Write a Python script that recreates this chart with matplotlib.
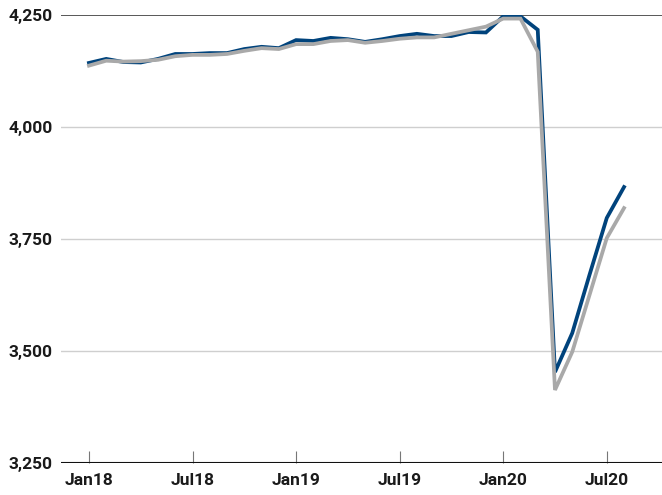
import matplotlib
matplotlib.use("Agg")
import matplotlib.pyplot as plt
import pandas as pd

plt.rcParams['font.family'] = ['Liberation Sans Narrow', 'Roboto', 'DejaVu Sans']

months = pd.date_range("2018-01-01", "2020-08-01", freq="MS")

series_blue = [4143, 4152, 4145, 4144, 4152, 4163, 4163, 4165, 4165, 4174, 4179, 4176,
               4194, 4192, 4199, 4196, 4190, 4196, 4203, 4208, 4203, 4203, 4212, 4211,
               4247, 4247, 4217, 3453, 3540, 3670, 3797, 3866]
series_gray = [4137, 4148, 4146, 4147, 4150, 4158, 4161, 4161, 4163, 4170, 4176, 4174,
               4185, 4185, 4192, 4194, 4188, 4192, 4197, 4200, 4200, 4208, 4216, 4224,
               4242, 4242, 4168, 3413, 3498, 3625, 3752, 3819]

y_ticks = [3250, 3500, 3750, 4000, 4250]
y_tick_labels = ["3,250", "3,500", "3,750", "4,000", "4,250"]
x_tick_labels = ["Jan18", "Jul18", "Jan19", "Jul19", "Jan20", "Jul20"]

fig = plt.figure(figsize=(6.62, 4.95), dpi=100)
ax = fig.add_axes([61 / 662, 1 - 463 / 495, 1 - 61 / 662, (463 - 15) / 495])

x = list(range(len(months)))
ax.plot(x, series_blue, color="#00437c", lw=2.7, solid_joinstyle="miter", zorder=3)
ax.plot(x, series_gray, color="#a9a9a9", lw=2.7, solid_joinstyle="miter", zorder=4)

ax.set_ylim(3250, 4250)
ax.set_xlim(-1.62, 33.2)

ax.set_yticks(y_ticks)
ax.set_yticklabels(y_tick_labels)
for yv in y_ticks[1:-1]:
    ax.axhline(yv, color="#cfcfcf", lw=1.0, zorder=1)
ax.axhline(4250, color="#4a4a4a", lw=1.3, zorder=2)
ax.axhline(3250, color="#111111", lw=1.5, zorder=5)

tick_pos = [i for i, m in enumerate(months) if m.month in (1, 7)]
ax.set_xticks(tick_pos)
ax.set_xticklabels(x_tick_labels)

for s in ax.spines.values():
    s.set_visible(False)

ax.tick_params(axis="y", length=0, pad=6, labelsize=12.5, labelcolor="#1a1a1a")
ax.tick_params(axis="x", direction="in", length=9, width=0.8, color="#777777",
               pad=7, labelsize=12.5, labelcolor="#1a1a1a")
for lbl in ax.get_xticklabels() + ax.get_yticklabels():
    lbl.set_fontweight("bold")

fig.savefig("out.png", dpi=100)
